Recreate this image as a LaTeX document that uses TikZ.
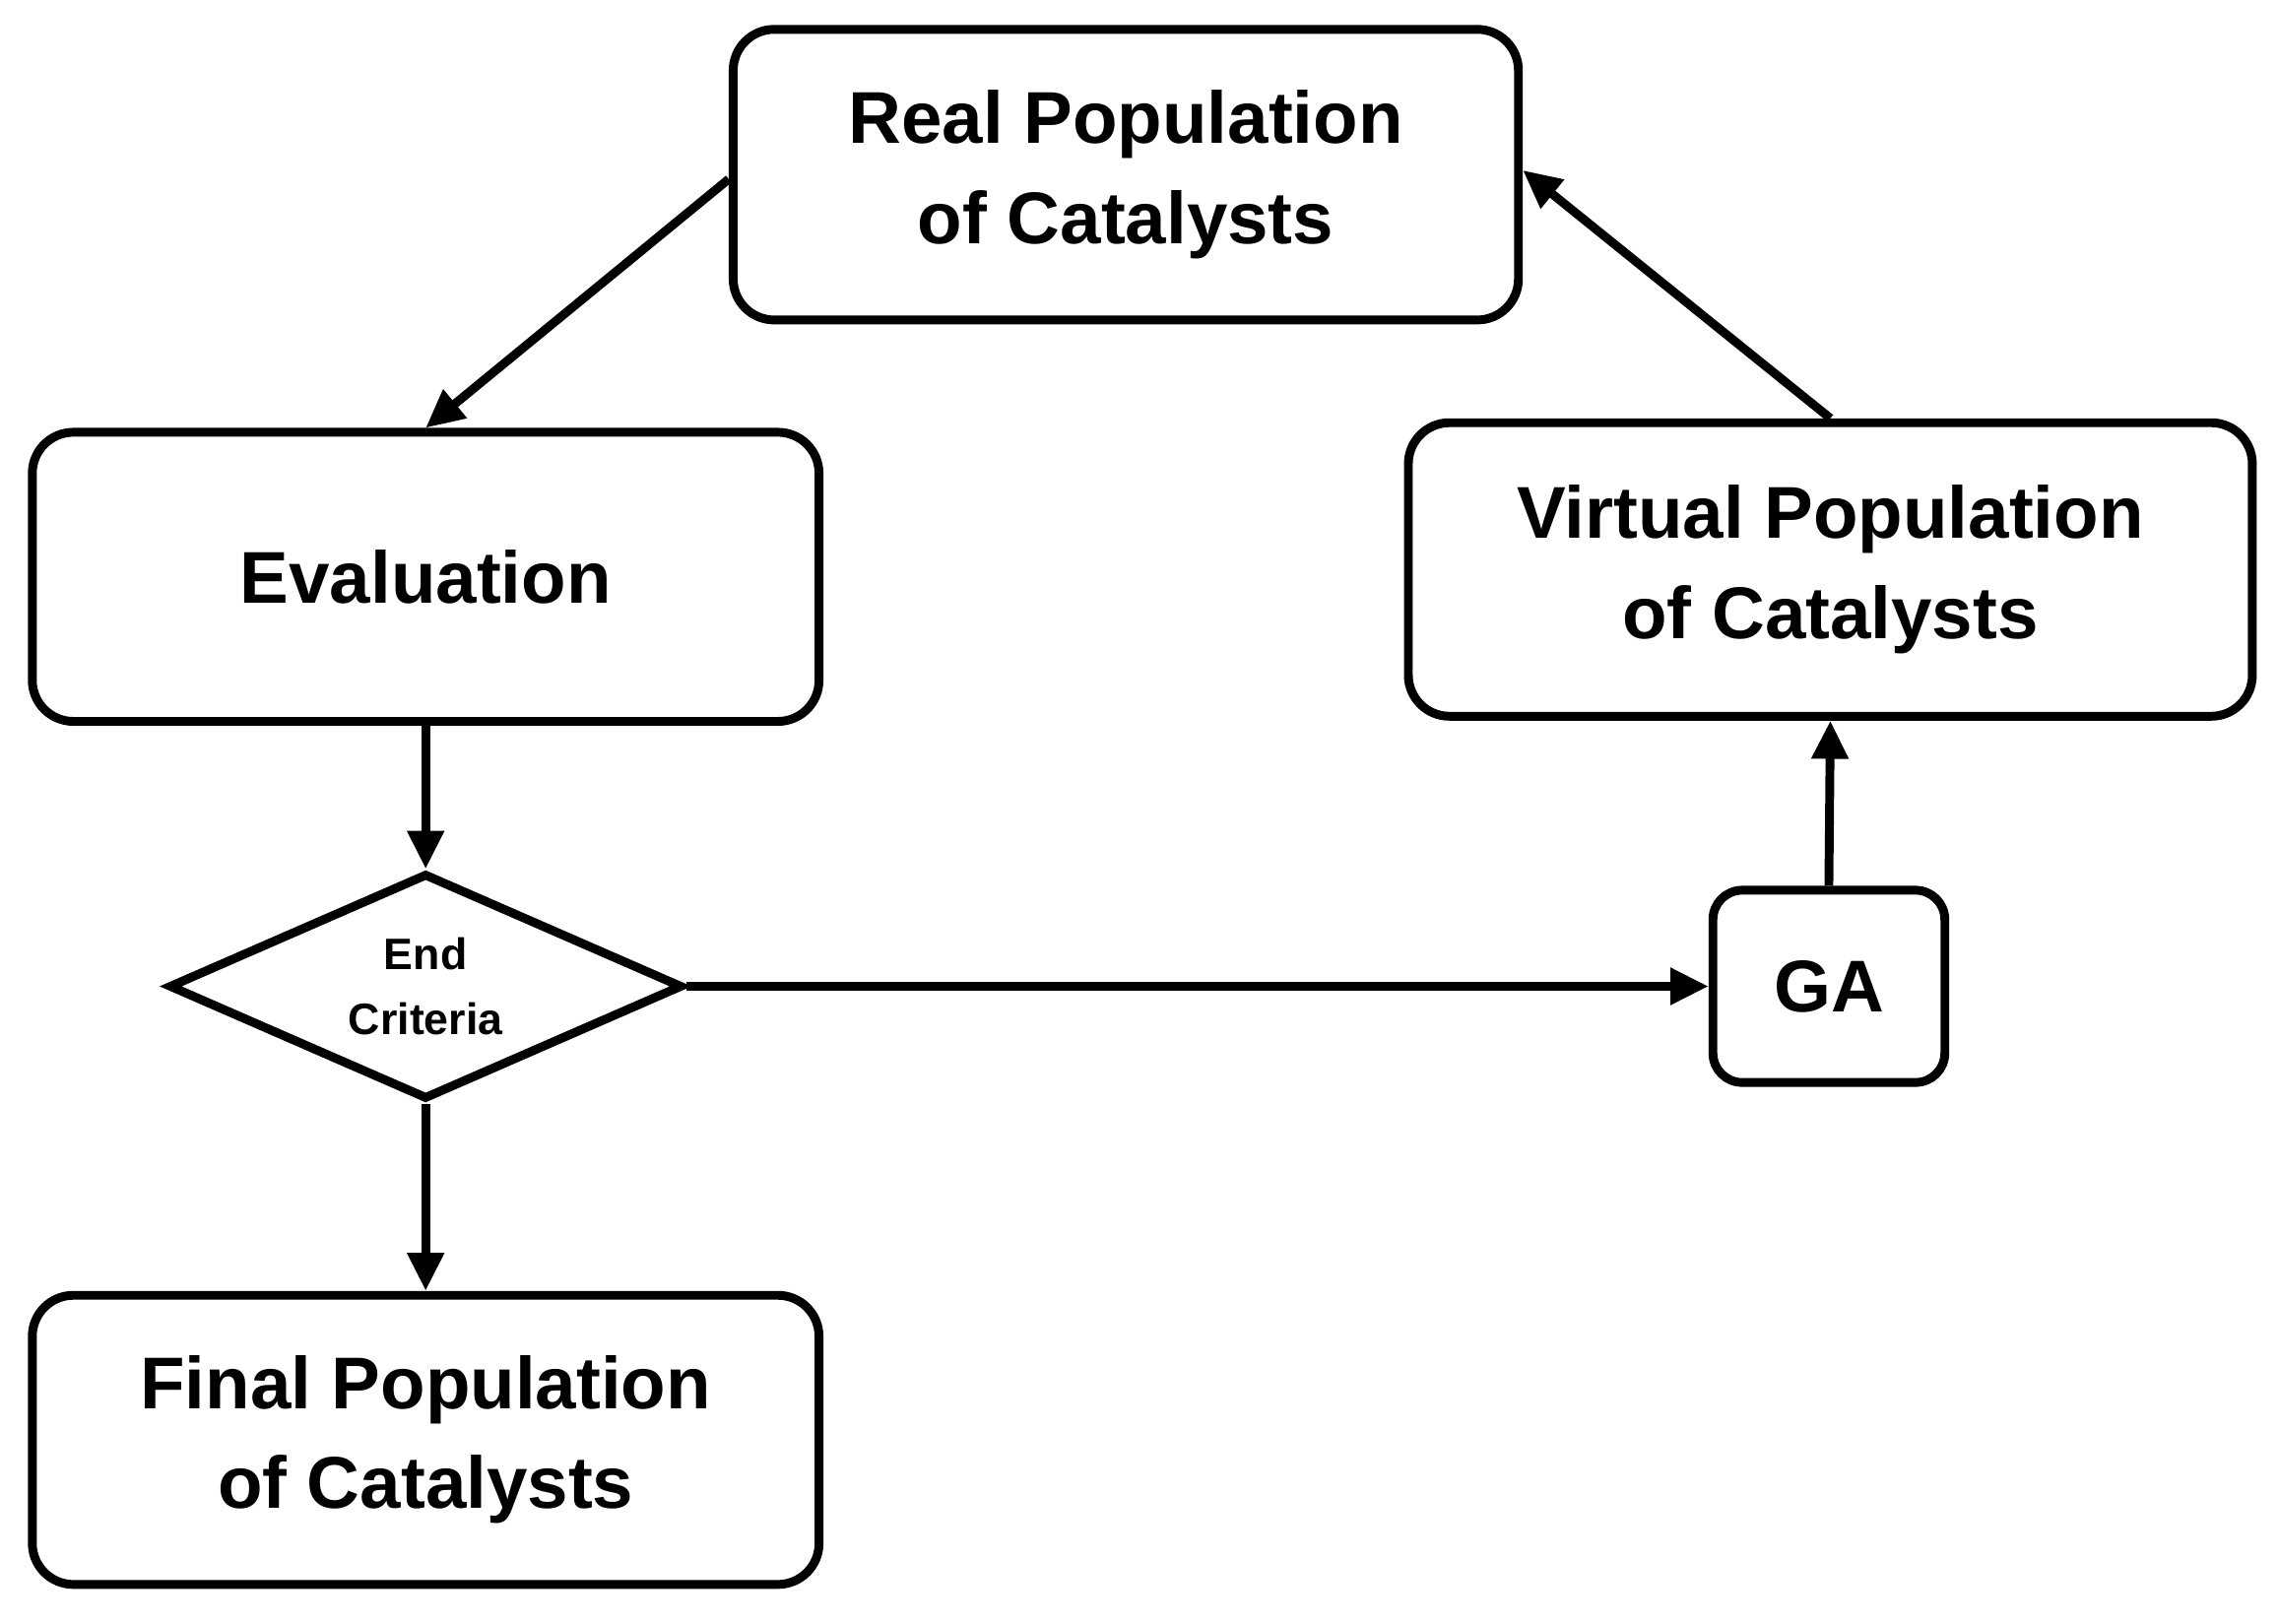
\documentclass[tikz,border=0pt]{standalone}
\usepackage{fontspec}
\setmainfont{Liberation Sans}
\usetikzlibrary{shapes.geometric,arrows.meta}
\begin{document}
\begin{tikzpicture}[x=1pt,y=-1pt,
 box/.style={draw,line width=6pt,rounded corners=28pt,align=center,font=\bfseries\fontsize{50}{68}\selectfont,inner sep=0pt},
 arr/.style={line width=6pt,-{Triangle[length=26pt,width=24pt]}}]
\useasboundingbox (0,0) rectangle (1552,1106);
\node[box,minimum width=535pt,minimum height=198pt] (real) at (767,119) {Real Population\\of Catalysts};
\node[box,minimum width=536pt,minimum height=197pt] (eval) at (290,393) {Evaluation};
\node[box,minimum width=575pt,minimum height=200pt] (virt) at (1247,388) {Virtual Population\\of Catalysts};
\node[draw,line width=6pt,diamond,aspect=2.27,minimum width=350pt,minimum height=154pt,inner sep=0pt,align=center,font=\bfseries\fontsize{30}{44}\selectfont] (crit) at (290,672) {End\\Criteria};
\node[box,rounded corners=20pt,minimum width=158pt,minimum height=131pt] (ga) at (1246,672) {GA};
\node[box,minimum width=536pt,minimum height=197pt] (final) at (290,981) {Final Population\\of Catalysts};
\draw[arr] (real.west) ++(0,3) -- (eval.north);
\draw[arr] (virt.north) -- ([yshift=3pt]real.east);
\draw[arr] (eval.south) -- (crit.north);
\draw[arr] (crit.south) -- (final.north);
\draw[arr] (crit.east) -- (ga.west);
\draw[arr] (ga.north) -- (virt.south);
\end{tikzpicture}
\end{document}
